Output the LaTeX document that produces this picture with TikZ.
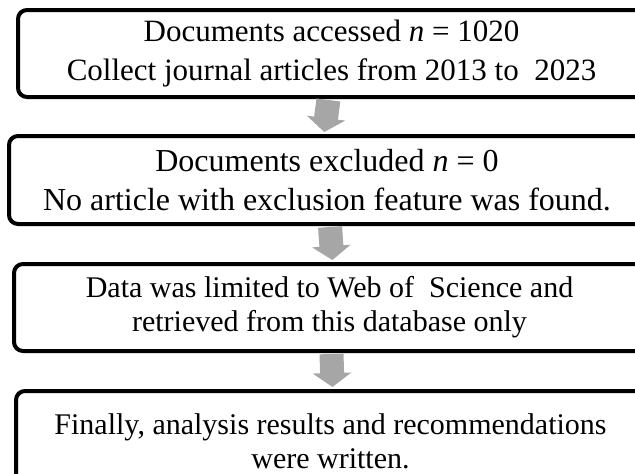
\documentclass[tikz,border=0pt]{standalone}
\usepackage{fontspec}
\setmainfont{Liberation Serif}
\usetikzlibrary{arrows.meta}
\definecolor{flowgray}{RGB}{166,166,166}
\begin{document}
\begin{tikzpicture}[x=1pt,y=-1pt,
  box/.style={draw=black, line width=4pt, rounded corners=9pt, align=center,
    inner sep=0pt, fill=white},
  wide/.style={font=\fontsize{31}{39}\selectfont},
  wider/.style={font=\fontsize{32}{39}\selectfont},
  tight/.style={font=\fontsize{30}{34}\selectfont},
  flow/.style={draw=flowgray, line width=24pt, -{Triangle[width=38pt,length=14pt]},
    shorten <=1pt, shorten >=2pt}]
\useasboundingbox (0,0) rectangle (635,474);
\clip (0,0) rectangle (635,474);
\node[box, wide, minimum width=627pt, minimum height=87pt] (b1) at (331.5,53.5)
  {Documents accessed \textit{n} = 1020\\Collect journal articles from 2013 to\ \ 2023};
\node[box, wider, minimum width=636pt, minimum height=88pt] (b2) at (327,180)
  {Documents excluded \textit{n} = 0\\No article with exclusion feature was found.};
\node[box, tight, minimum width=631pt, minimum height=87pt] (b3) at (329.5,307.5)
  {Data was limited to Web of\ \ Science and\\retrieved from this database only};
\node[box, tight, minimum width=629pt, minimum height=100pt] (b4) at (330.5,441)
  {Finally, analysis results and recommendations\\were written.};
\draw[flow] ([xshift=-3pt]b1.south) -- ([xshift=-3pt]b2.north);
\draw[flow] ([xshift=3pt]b2.south) -- ([xshift=3pt]b3.north);
\draw[flow] ([xshift=2pt]b3.south) -- ([xshift=2pt]b4.north);
\end{tikzpicture}
\end{document}
